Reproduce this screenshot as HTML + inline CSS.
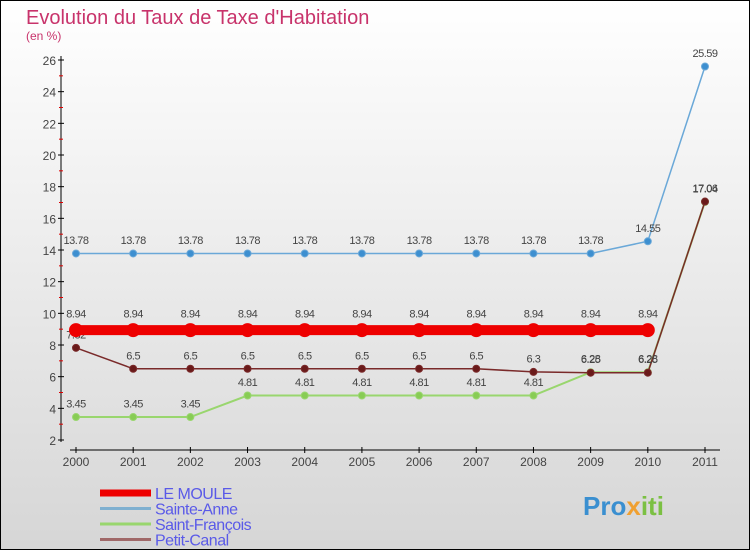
<!DOCTYPE html>
<html><head><meta charset="utf-8"><style>
body{margin:0;width:750px;height:550px;overflow:hidden;font-family:"Liberation Sans",sans-serif}
#c{position:absolute;left:0;top:0;width:748px;height:548px;border:1px solid #000;background:linear-gradient(#fff,#d6d6d6)}
</style></head><body>
<div id="c">
<svg id="s" width="750" height="550" style="position:absolute;left:-1px;top:-1px">
<text x="26" y="24" font-size="20" fill="#c8336b">Evolution du Taux de Taxe d'Habitation</text>
<text x="26" y="40" font-size="12" fill="#c8336b">(en %)</text>
<text x="583" y="515" font-size="26" font-weight="bold" fill="#3a8fd0">Pro<tspan fill="#f0a030">x</tspan><tspan fill="#7bc043">iti</tspan></text>
</svg>
</div>
<script>
const years=[2000,2001,2002,2003,2004,2005,2006,2007,2008,2009,2010,2011];
const yTicks=[2,4,6,8,10,12,14,16,18,20,22,24,26];
const leMoule=[8.94,8.94,8.94,8.94,8.94,8.94,8.94,8.94,8.94,8.94,8.94,null];
const sainteAnne=[13.78,13.78,13.78,13.78,13.78,13.78,13.78,13.78,13.78,13.78,14.55,25.59];
const saintFrancois=[3.45,3.45,3.45,4.81,4.81,4.81,4.81,4.81,4.81,6.28,6.28,17.04];
const petitCanal=[7.82,6.5,6.5,6.5,6.5,6.5,6.5,6.5,6.3,6.25,6.25,17.06];
const seriesNames=["LE MOULE","Sainte-Anne","Saint-François","Petit-Canal"];
const NS="http://www.w3.org/2000/svg",svg=document.getElementById('s');
const X=i=>76+i*(705-76)/11, Y=v=>440-(v-2)*(380/24);
function el(t,a,p){const e=document.createElementNS(NS,t);for(const k in a)e.setAttribute(k,a[k]);(p||svg).appendChild(e);return e;}
let ax=el('line',{x1:61,y1:56,x2:61,y2:442,stroke:'#000'});


yTicks.forEach(v=>{
 el('line',{x1:58,x2:64,y1:Y(v),y2:Y(v),stroke:'#000'});
 if(v<26) el('line',{x1:59,x2:63,y1:Y(v+1),y2:Y(v+1),stroke:'#d00'});
 const t=el('text',{x:56,y:Y(v)+5,'font-size':12,fill:'#444','text-anchor':'end'});t.textContent=v;
 
 
});
let xa=el('line',{x1:70,y1:450,x2:720,y2:450,stroke:'#000'});


years.forEach((y,i)=>{
 el('line',{x1:X(i),x2:X(i),y1:447,y2:453,stroke:'#000'});
 const t=el('text',{x:X(i),y:466,'font-size':12,fill:'#444','text-anchor':'middle'});t.textContent=y;
 
 
});
function series(data,color,w,r,mfill,name){
 const g=el('g',{});
 
 
 const pts=data.map((v,i)=>v==null?null:[X(i),Y(v)]).filter(p=>p);
 el('polyline',{points:pts.map(p=>p.join(',')).join(' '),fill:'none',stroke:color,'stroke-width':w},g);
 data.forEach((v,i)=>{if(v==null)return;
  const c=el('circle',{cx:X(i),cy:Y(v),r:r,fill:mfill,stroke:color},g);
  
  
  const t=el('text',{x:X(i),y:Y(v)-(r+6),'font-size':11,fill:'#444','text-anchor':'middle','letter-spacing':'-0.5'},g);t.textContent=v;
 });
}
series(saintFrancois,'#99d66e',2,3.5,'#88cc55','series-saint-francois');
series(sainteAnne,'#6aa8d8',1.5,3.5,'#3d8fd0','series-sainte-anne');
series(petitCanal,'#7a2a2a',1.5,3.5,'#6a1a1a','series-petit-canal');
series(leMoule,'#ee0000',10,6.5,'#ee0000','series-le-moule');
const legC=['#ee0000','#7fb0d0','#99d66e','#a06868'],legW=[7,3,3,3];
seriesNames.forEach((n,i)=>{
 const y=493+i*15.5;
 const g=el('g',{});
 
 
 el('line',{x1:100,x2:151,y1:y,y2:y,stroke:legC[i],'stroke-width':legW[i]},g);
 const t=el('text',{x:155,y:y+6,'font-size':16,fill:'#5a5ae8','letter-spacing':'-0.5'},g);t.textContent=n;
});
</script>
</body></html>
